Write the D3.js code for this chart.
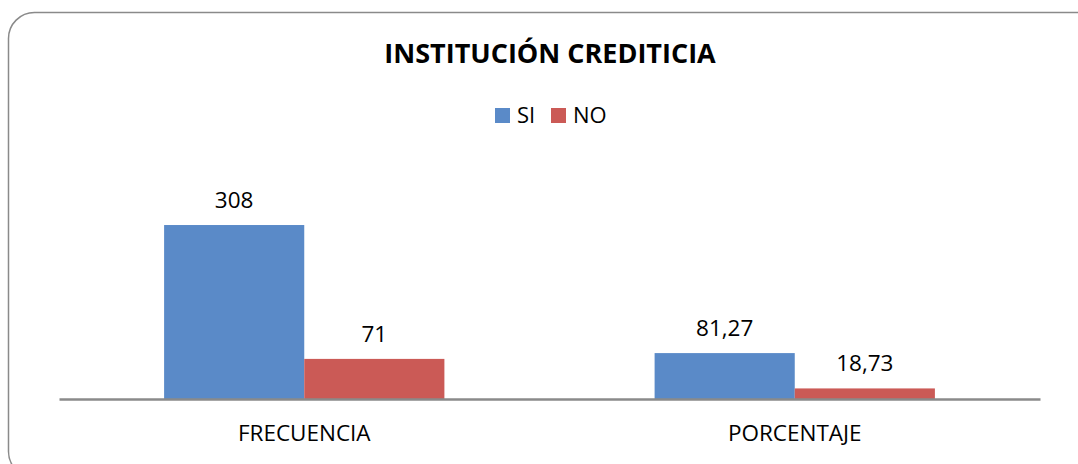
<!DOCTYPE html>
<html>
<head>
<meta charset="utf-8">
<script src="https://cdn.jsdelivr.net/npm/d3@7"></script>
<style>
  body { margin: 0; background: #fff; }
  svg text { font-family: "Open Sans", Lato, sans-serif; fill: #000; }
</style>
</head>
<body>
<div id="chart"></div>
<script>
// chart data
var categories = ["FRECUENCIA", "PORCENTAJE"];
var seriesNames = ["SI", "NO"];
var siValues = [308, 81.27];
var noValues = [71, 18.73];
var valueLabels = [["308", "71"], ["81,27", "18,73"]];
var colors = ["#5A8AC8", "#CB5A56"];

var width = 1078, height = 464;

var svg = d3.select("#chart")
  .append("svg")
  .attr("width", width)
  .attr("height", height);

// outer rounded frame (runs past the bottom/right edge like the original)
svg.append("rect")
  .attr("x", 8.5)
  .attr("y", 12.5)
  .attr("width", 1100)
  .attr("height", 465)
  .attr("rx", 26)
  .attr("fill", "#fff")
  .attr("stroke", "#8a8a8a")
  .attr("stroke-width", 1.5);

// plot area
var margin = { left: 59, right: 38, base: 399 };

var x0 = d3.scaleBand()
  .domain(categories)
  .range([margin.left, width - margin.right])
  .paddingInner(0)
  .paddingOuter(0);

// 150% gap width like excel: group = 2 bars + 1.5 bar of gap
var x1 = d3.scaleBand()
  .domain(seriesNames)
  .range([0, x0.bandwidth()])
  .paddingInner(0)
  .paddingOuter(0.75);

var y = d3.scaleLinear()
  .domain([0, 350])
  .range([margin.base, margin.base - 197.7]);

var rows = categories.map(function (c, i) {
  return { cat: c, vals: [siValues[i], noValues[i]], labels: valueLabels[i] };
});

var groups = svg.append("g")
  .selectAll("g")
  .data(rows)
  .enter().append("g")
  .attr("transform", function (d) { return "translate(" + x0(d.cat) + ",0)"; });

groups.selectAll("rect")
  .data(function (d) { return d.vals.map(function (v, j) { return { key: seriesNames[j], v: v, j: j }; }); })
  .enter().append("rect")
  .attr("x", function (d) { return x1(d.key); })
  .attr("y", function (d) { return y(d.v); })
  .attr("width", x1.bandwidth())
  .attr("height", function (d) { return y(0) - y(d.v); })
  .attr("fill", function (d) { return colors[d.j]; });

// value labels
groups.selectAll("text.val")
  .data(function (d) { return d.vals.map(function (v, j) { return { key: seriesNames[j], v: v, label: d.labels[j] }; }); })
  .enter().append("text")
  .attr("class", "val")
  .attr("x", function (d) { return x1(d.key) + x1.bandwidth() / 2; })
  .attr("y", function (d) { return y(d.v) - 17; })
  .attr("text-anchor", "middle")
  .style("font-size", "22.5px")
  .text(function (d) { return d.label; });

// x axis
var xAxis = svg.append("g")
  .attr("transform", "translate(0," + margin.base + ")")
  .call(d3.axisBottom(x0).tickSize(0).tickPadding(26));
xAxis.select(".domain")
  .attr("stroke", "#8a8a8a")
  .attr("stroke-width", 2.5);
xAxis.selectAll("text")
  .style("font-size", "22.5px")
  .style("font-family", "'Open Sans', Lato, sans-serif")
  .attr("fill", "#000");

// title
svg.append("text")
  .attr("x", 550)
  .attr("y", 63)
  .attr("text-anchor", "middle")
  .style("font-size", "27px")
  .style("font-weight", "bold")
  .text("INSTITUCIÓN CREDITICIA");

// legend
var legend = svg.append("g")
  .selectAll("g")
  .data(seriesNames)
  .enter().append("g")
  .attr("transform", function (d, i) { return "translate(" + (495 + i * 56) + ",108)"; });

legend.append("rect")
  .attr("width", 15)
  .attr("height", 15)
  .attr("fill", function (d, i) { return colors[i]; });

legend.append("text")
  .attr("x", 22)
  .attr("y", 15)
  .style("font-size", "22px")
  .text(function (d) { return d; });
</script>
</body>
</html>
